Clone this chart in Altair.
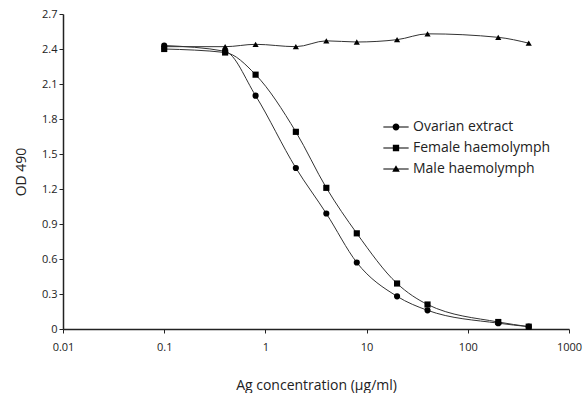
import altair as alt
import pandas as pd

conc = [0.1, 0.4, 0.8, 2, 4, 8, 20, 40, 200, 400]
ovarian = [2.43, 2.38, 2.00, 1.38, 0.99, 0.57, 0.28, 0.16, 0.05, 0.02]
female = [2.40, 2.37, 2.18, 1.69, 1.21, 0.82, 0.39, 0.21, 0.06, 0.02]
male = [2.42, 2.42, 2.44, 2.42, 2.47, 2.46, 2.48, 2.53, 2.50, 2.45]
series_names = ["Ovarian extract", "Female haemolymph", "Male haemolymph"]
x_ticks = [0.01, 0.1, 1, 10, 100, 1000]
y_ticks = [0, 0.3, 0.6, 0.9, 1.2, 1.5, 1.8, 2.1, 2.4, 2.7]

rows = []
for name, vals in zip(series_names, [ovarian, female, male]):
    for c, v in zip(conc, vals):
        rows.append({"conc": c, "od": v, "series": name})
df = pd.DataFrame(rows)

FONT = "Open Sans"

x = alt.X("conc:Q", scale=alt.Scale(type="log", domain=[0.01, 1000]),
          axis=alt.Axis(values=x_ticks, format="~g", title="Ag concentration (µg/ml)",
                        titlePadding=26, labelFlush=False, labelPadding=8))
y = alt.Y("od:Q", scale=alt.Scale(domain=[0, 2.7]),
          axis=alt.Axis(values=y_ticks, format=".1~f", title="OD 490", titlePadding=13,
                        labelFlush=False))

base = alt.Chart(df)

lines = base.mark_line(interpolate="monotone", stroke="#333", strokeWidth=1).encode(
    x=x, y=y, detail="series:N")

points = base.mark_point(filled=True, color="black", size=38, opacity=1).encode(
    x=x, y=y,
    shape=alt.Shape("series:N", scale=alt.Scale(domain=series_names,
                                                range=["circle", "square", "triangle-up"]),
                    legend=None))

bar = "M-1,-0.045H-0.15V0.045H-1ZM0.15,-0.045H1V0.045H0.15Z"
circle_p = bar + "M-0.27,0A0.27,0.27 0 1,1 0.27,0A0.27,0.27 0 1,1 -0.27,0Z"
square_p = bar + "M-0.25,-0.25H0.25V0.25H-0.25Z"
tri_p = bar + "M0,-0.3L0.3,0.22H-0.3Z"

legend_layer = base.mark_point(filled=True, color="black", opacity=1).encode(
    x=x, y=y,
    shape=alt.Shape("series:N", scale=alt.Scale(domain=series_names,
                                                range=[circle_p, square_p, tri_p]),
                    legend=alt.Legend(title=None, orient="none", legendX=320, legendY=100,
                                      symbolSize=640, symbolFillColor="#111",
                                      symbolStrokeWidth=0, symbolOpacity=1,
                                      labelFontSize=14, labelFont=FONT, rowPadding=1,
                                      labelOffset=4))
).transform_filter("false")

chart = alt.layer(lines, points, legend_layer).resolve_scale(shape="independent").properties(
    width=506, height=315,
    autosize=alt.AutoSizeParams(type="none"),
    padding={"left": 63, "top": 14, "right": 15, "bottom": 64},
).configure_view(stroke=None).configure_axis(
    domainColor="#222", domainWidth=1.5, tickColor="#222", tickWidth=1, tickSize=4,
    labelFont=FONT, labelFontSize=11, labelColor="#222", grid=False,
    titleFont=FONT, titleFontSize=14, titleFontWeight="normal", titleColor="#222",
).configure_legend(labelColor="#222")

chart.save("out.html", embed_options={"renderer": "svg", "actions": False})
